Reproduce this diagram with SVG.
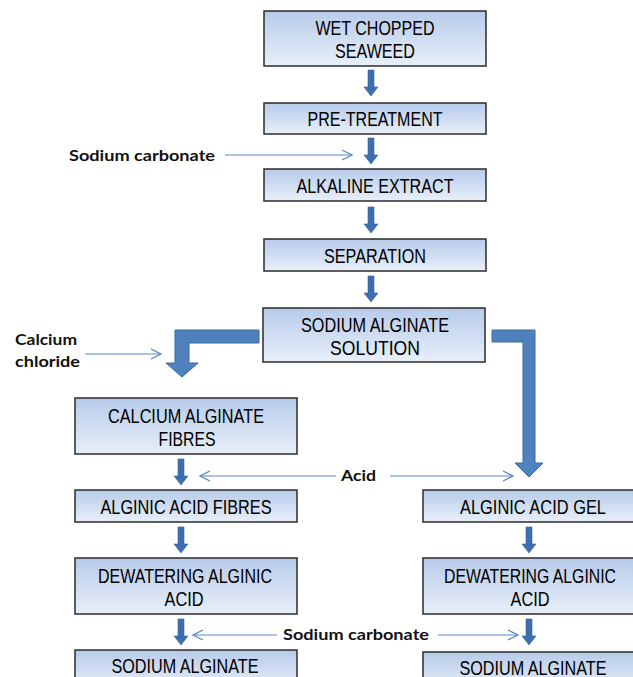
<svg xmlns="http://www.w3.org/2000/svg" width="633" height="677" viewBox="0 0 633 677">
<style>
.box{fill:url(#g);stroke:#2b2b2b;stroke-width:1.5}
.bt{font-family:"Liberation Sans",Arial,sans-serif;font-size:20px;fill:#000;text-anchor:middle}
.lb{font-family:Lato,"Open Sans","Liberation Sans",sans-serif;font-weight:700;font-size:16px;fill:#111}
.thin{stroke:#5a86c0;stroke-width:1.2;fill:none;marker-end:url(#chev)}
.small{fill:#3d6fae;stroke:#35639c;stroke-width:0.6}
.big{fill:#4f81bd;stroke:#3a6aa6;stroke-width:1}
</style>
<defs>
<linearGradient id="g" x1="0" y1="0" x2="0" y2="1">
<stop offset="0" stop-color="#b7cbea"/>
<stop offset="1" stop-color="#e8eff9"/>
</linearGradient>
<marker id="chev" viewBox="0 0 12 12" refX="11" refY="6" markerWidth="12" markerHeight="12" markerUnits="userSpaceOnUse" orient="auto">
<path d="M1,1 L11,6 L1,11" fill="none" stroke="#5a86c0" stroke-width="1.2"/>
</marker>
<path id="da" d="M-3,0 H3 V17 H7 L0,26 L-7,17 H-3 Z"/>
</defs>

<g id="n1"><rect class="box" x="264" y="11" width="222" height="55"/><text class="bt" x="375" y="35" textLength="119" lengthAdjust="spacingAndGlyphs">WET CHOPPED</text><text class="bt" x="375" y="58" textLength="80" lengthAdjust="spacingAndGlyphs">SEAWEED</text></g>
<g id="n2"><rect class="box" x="264" y="103" width="222" height="31"/><text class="bt" x="375" y="126" textLength="135" lengthAdjust="spacingAndGlyphs">PRE-TREATMENT</text></g>
<g id="n3"><rect class="box" x="264" y="169" width="222" height="32"/><text class="bt" x="375" y="193" textLength="157" lengthAdjust="spacingAndGlyphs">ALKALINE EXTRACT</text></g>
<g id="n4"><rect class="box" x="264" y="239" width="222" height="32"/><text class="bt" x="375" y="263" textLength="102" lengthAdjust="spacingAndGlyphs">SEPARATION</text></g>
<g id="n5"><rect class="box" x="263" y="308" width="222" height="54"/><text class="bt" x="375" y="332" textLength="148" lengthAdjust="spacingAndGlyphs">SODIUM ALGINATE</text><text class="bt" x="375" y="355" textLength="90" lengthAdjust="spacingAndGlyphs">SOLUTION</text></g>
<g id="n6"><rect class="box" x="75" y="398" width="222" height="56"/><text class="bt" x="186" y="423" textLength="156" lengthAdjust="spacingAndGlyphs">CALCIUM ALGINATE</text><text class="bt" x="187" y="446" textLength="57" lengthAdjust="spacingAndGlyphs">FIBRES</text></g>
<g id="n7"><rect class="box" x="75" y="490" width="222" height="32"/><text class="bt" x="186" y="514" textLength="171" lengthAdjust="spacingAndGlyphs">ALGINIC ACID FIBRES</text></g>
<g id="n8"><rect class="box" x="75" y="558" width="222" height="56"/><text class="bt" x="185" y="583" textLength="174" lengthAdjust="spacingAndGlyphs">DEWATERING ALGINIC</text><text class="bt" x="184" y="606" textLength="39" lengthAdjust="spacingAndGlyphs">ACID</text></g>
<g id="n9"><rect class="box" x="75" y="650" width="222" height="40"/><text class="bt" x="185" y="673" textLength="147" lengthAdjust="spacingAndGlyphs">SODIUM ALGINATE</text></g>
<g id="n10"><rect class="box" x="423" y="490" width="222" height="32"/><text class="bt" x="533" y="514" textLength="146" lengthAdjust="spacingAndGlyphs">ALGINIC ACID GEL</text></g>
<g id="n11"><rect class="box" x="423" y="558" width="222" height="56"/><text class="bt" x="530" y="583" textLength="172" lengthAdjust="spacingAndGlyphs">DEWATERING ALGINIC</text><text class="bt" x="530" y="606" textLength="39" lengthAdjust="spacingAndGlyphs">ACID</text></g>
<g id="n12"><rect class="box" x="423" y="652" width="222" height="40"/><text class="bt" x="533" y="675" textLength="147" lengthAdjust="spacingAndGlyphs">SODIUM ALGINATE</text></g>

<g id="labels">
<text class="lb" x="69" y="161" textLength="146" lengthAdjust="spacingAndGlyphs">Sodium carbonate</text>
<text class="lb" x="15" y="345" textLength="62" lengthAdjust="spacingAndGlyphs">Calcium</text>
<text class="lb" x="15" y="367" textLength="65" lengthAdjust="spacingAndGlyphs">chloride</text>
<text class="lb" x="341" y="481" textLength="35" lengthAdjust="spacingAndGlyphs">Acid</text>
<text class="lb" x="283" y="640" textLength="146" lengthAdjust="spacingAndGlyphs">Sodium carbonate</text>
</g>

<g id="connectors">
<use href="#da" class="small" x="371" y="70"/>
<use href="#da" class="small" x="371" y="138"/>
<use href="#da" class="small" x="371" y="207"/>
<use href="#da" class="small" x="371" y="276"/>
<use href="#da" class="small" x="181" y="459"/>
<use href="#da" class="small" x="181" y="527"/>
<use href="#da" class="small" x="181" y="619"/>
<use href="#da" class="small" x="529" y="527"/>
<use href="#da" class="small" x="529" y="619"/>
<path class="big" d="M259,330 H175 V363 H166 L182,377 L198,363 H189 V343 H259 Z"/>
<path class="big" d="M492,330 H535 V463 H543 L529,477 L515,463 H523 V342 H492 Z"/>
<line class="thin" x1="225" y1="155" x2="352" y2="155"/>
<line class="thin" x1="85" y1="354" x2="161" y2="354"/>
<line class="thin" x1="336" y1="476" x2="200" y2="476"/>
<line class="thin" x1="390" y1="476" x2="513" y2="476"/>
<line class="thin" x1="277" y1="635" x2="193" y2="635"/>
<line class="thin" x1="438" y1="635" x2="518" y2="635"/>
</g>
</svg>
